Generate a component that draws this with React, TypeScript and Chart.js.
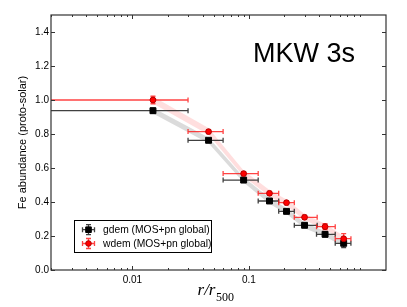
import React, { useEffect, useRef } from "react";
import { Chart, registerables } from "chart.js";

Chart.register(...registerables);

// ---- data ----
const xCenters = [0.015, 0.045, 0.09, 0.15, 0.21, 0.3, 0.45, 0.65];
const xLow = [0.0005, 0.03, 0.06, 0.12, 0.18, 0.245, 0.38, 0.55];
const xHigh = [0.03, 0.06, 0.12, 0.18, 0.245, 0.385, 0.55, 0.75];

const gdemY = [0.937, 0.763, 0.529, 0.406, 0.345, 0.263, 0.21, 0.157];
const gdemErr = [0.015, 0.01, 0.01, 0.012, 0.012, 0.012, 0.015, 0.025];
const gdemBandLow = [0.92, 0.745, 0.515, 0.39, 0.33, 0.245, 0.195, 0.14];
const gdemBandHigh = [0.955, 0.78, 0.545, 0.425, 0.365, 0.28, 0.228, 0.172];

const wdemY = [1.0, 0.814, 0.567, 0.451, 0.396, 0.31, 0.255, 0.184];
const wdemErr = [0.022, 0.012, 0.012, 0.012, 0.012, 0.012, 0.018, 0.03];
const wdemBandLow = [0.98, 0.795, 0.55, 0.432, 0.378, 0.292, 0.238, 0.168];
const wdemBandHigh = [1.02, 0.835, 0.585, 0.47, 0.415, 0.33, 0.272, 0.2];

const yTicks = [0, 0.2, 0.4, 0.6, 0.8, 1.0, 1.2, 1.4];
const xMajorTicks = [0.01, 0.1];
const xMinorTicks = [
  0.002, 0.003, 0.004, 0.005, 0.006, 0.007, 0.008, 0.009,
  0.02, 0.03, 0.04, 0.05, 0.06, 0.07, 0.08, 0.09,
  0.2, 0.3, 0.4, 0.5, 0.6, 0.7, 0.8, 0.9,
];

const gdemLabel = "gdem (MOS+pn global)";
const wdemLabel = "wdem (MOS+pn global)";
const titleText = "MKW 3s";
const yTitle = "Fe abundance (proto-solar)";

const SANS = "'Liberation Sans', Arial, Helvetica, sans-serif";

function drawErrBar(
  ctx: CanvasRenderingContext2D,
  px: number, py: number, xl: number, xr: number, yt: number, yb: number,
  color: string, left: number
) {
  ctx.strokeStyle = color;
  ctx.lineWidth = 1.3;
  const cap = 2.5;
  ctx.beginPath();
  ctx.moveTo(xl, py);
  ctx.lineTo(xr, py);
  ctx.moveTo(px, yt);
  ctx.lineTo(px, yb);
  if (xl > left) {
    ctx.moveTo(xl, py - cap);
    ctx.lineTo(xl, py + cap);
  }
  ctx.moveTo(xr, py - cap);
  ctx.lineTo(xr, py + cap);
  ctx.moveTo(px - cap, yt);
  ctx.lineTo(px + cap, yt);
  ctx.moveTo(px - cap, yb);
  ctx.lineTo(px + cap, yb);
  ctx.stroke();
}

const bandsAndErrors = {
  id: "bandsAndErrors",
  beforeDatasetsDraw(chart: any) {
    const { ctx, chartArea: a, scales } = chart;
    const x = scales.x;
    const y = scales.y;
    ctx.save();
    ctx.beginPath();
    ctx.rect(a.left, a.top, a.right - a.left, a.bottom - a.top);
    ctx.clip();
    const band = (lo: number[], hi: number[], color: string) => {
      ctx.beginPath();
      xCenters.forEach((v, i) => {
        const px = x.getPixelForValue(v);
        const py = y.getPixelForValue(hi[i]);
        if (i === 0) ctx.moveTo(px, py);
        else ctx.lineTo(px, py);
      });
      for (let i = xCenters.length - 1; i >= 0; i--) {
        ctx.lineTo(x.getPixelForValue(xCenters[i]), y.getPixelForValue(lo[i]));
      }
      ctx.closePath();
      ctx.fillStyle = color;
      ctx.fill();
    };
    band(gdemBandLow, gdemBandHigh, "rgba(0,0,0,0.14)");
    band(wdemBandLow, wdemBandHigh, "rgba(255,0,0,0.13)");
    const bars = (vals: number[], errs: number[], color: string) => {
      vals.forEach((v, i) => {
        const px = x.getPixelForValue(xCenters[i]);
        const py = y.getPixelForValue(v);
        const xl = Math.max(x.getPixelForValue(xLow[i]), a.left);
        const xr = x.getPixelForValue(xHigh[i]);
        drawErrBar(ctx, px, py, xl, xr, y.getPixelForValue(v + errs[i]), y.getPixelForValue(v - errs[i]), color, a.left);
      });
    };
    bars(gdemY, gdemErr, "rgba(30,30,30,0.85)");
    bars(wdemY, wdemErr, "rgba(255,20,20,0.8)");
    ctx.restore();
  },
  afterDraw(chart: any) {
    const { ctx, chartArea: a, scales } = chart;
    const x = scales.x;
    const y = scales.y;
    ctx.save();
    // frame
    ctx.strokeStyle = "#333";
    ctx.lineWidth = 1.2;
    ctx.strokeRect(a.left, a.top, a.right - a.left, a.bottom - a.top);
    // ticks
    ctx.lineWidth = 1;
    ctx.strokeStyle = "#333";
    ctx.beginPath();
    yTicks.forEach((v) => {
      const py = Math.round(y.getPixelForValue(v)) + 0.5;
      ctx.moveTo(a.left, py);
      ctx.lineTo(a.left + 4, py);
      ctx.moveTo(a.right, py);
      ctx.lineTo(a.right - 4, py);
    });
    xMajorTicks.forEach((v) => {
      const px = Math.round(x.getPixelForValue(v)) + 0.5;
      ctx.moveTo(px, a.bottom);
      ctx.lineTo(px, a.bottom - 4);
      ctx.moveTo(px, a.top);
      ctx.lineTo(px, a.top + 4);
    });
    xMinorTicks.forEach((v) => {
      const px = Math.round(x.getPixelForValue(v)) + 0.5;
      ctx.moveTo(px, a.bottom);
      ctx.lineTo(px, a.bottom - 2);
      ctx.moveTo(px, a.top);
      ctx.lineTo(px, a.top + 2);
    });
    ctx.stroke();

    // title inside the plot
    ctx.fillStyle = "#000";
    ctx.font = `27px ${SANS}`;
    ctx.textAlign = "left";
    ctx.textBaseline = "alphabetic";
    ctx.fillText(titleText, 253, 62);

    // y axis title
    ctx.save();
    ctx.translate(23, (a.top + a.bottom) / 2);
    ctx.rotate(-Math.PI / 2);
    ctx.font = `11px ${SANS}`;
    ctx.textAlign = "center";
    ctx.textBaseline = "middle";
    ctx.fillText(yTitle, 0, 0);
    ctx.restore();

    // x axis title: r/r_500
    ctx.textBaseline = "alphabetic";
    ctx.textAlign = "left";
    ctx.font = `italic 17px 'Liberation Serif', 'Times New Roman', serif`;
    const main = "r/r";
    const wMain = ctx.measureText(main).width;
    ctx.font = `12px 'Liberation Serif', 'Times New Roman', serif`;
    const wSub = ctx.measureText("500").width;
    const startX = (a.left + a.right) / 2 - (wMain + wSub) / 2 - 3;
    ctx.font = `italic 17px 'Liberation Serif', 'Times New Roman', serif`;
    ctx.fillText(main, startX, 295);
    ctx.font = `12px 'Liberation Serif', 'Times New Roman', serif`;
    ctx.fillText("500", startX + wMain + 0.5, 301);

    // legend
    const bx = 74.5, by = 220.5, bw = 137, bh = 32;
    ctx.fillStyle = "#fff";
    ctx.fillRect(bx, by, bw, bh);
    ctx.strokeStyle = "#000";
    ctx.lineWidth = 1;
    ctx.strokeRect(bx, by, bw, bh);
    const entry = (ly: number, color: string, marker: "rect" | "circle", fill: string, edge: string, label: string) => {
      const mx = 88.5;
      drawErrBar(ctx, mx, ly, mx - 6, mx + 6, ly - 5, ly + 5, color, 0);
      ctx.fillStyle = fill;
      ctx.strokeStyle = edge;
      ctx.lineWidth = 1;
      ctx.beginPath();
      if (marker === "rect") ctx.rect(mx - 2.8, ly - 2.8, 5.6, 5.6);
      else ctx.arc(mx, ly, 2.8, 0, Math.PI * 2);
      ctx.fill();
      ctx.stroke();
      ctx.fillStyle = "#000";
      ctx.font = `10.3px ${SANS}`;
      ctx.textAlign = "left";
      ctx.textBaseline = "middle";
      ctx.fillText(label, 103, ly + 0.5);
    };
    entry(229.7, "rgba(30,30,30,0.85)", "rect", "#000", "#000", gdemLabel);
    entry(243.5, "rgba(255,20,20,0.8)", "circle", "#ff0000", "#b00000", wdemLabel);
    ctx.restore();
  },
};

export default function App() {
  const ref = useRef<HTMLCanvasElement | null>(null);
  useEffect(() => {
    if (!ref.current) return;
    const chart = new Chart(ref.current, {
      type: "scatter",
      data: {
        datasets: [
          {
            label: wdemLabel,
            data: xCenters.map((v, i) => ({ x: v, y: wdemY[i] })),
            pointStyle: "circle",
            pointRadius: 2.9,
            backgroundColor: "#ff0000",
            borderColor: "#b00000",
            borderWidth: 1,
          },
          {
            label: gdemLabel,
            data: xCenters.map((v, i) => ({ x: v, y: gdemY[i] })),
            pointStyle: "rect",
            pointRadius: 4.2,
            backgroundColor: "#000",
            borderColor: "#000",
            borderWidth: 1,
          },
        ],
      },
      options: {
        animation: false,
        responsive: false,
        devicePixelRatio: 1,
        layout: { padding: { top: 15, right: 21, left: 0, bottom: 0 } },
        plugins: { legend: { display: false }, tooltip: { enabled: false } },
        scales: {
          x: {
            type: "logarithmic",
            min: 0.002,
            max: 1.5,
            grid: { display: false, drawTicks: false },
            border: { display: false },
            afterBuildTicks: (s: any) => {
              s.ticks = xMajorTicks.map((v) => ({ value: v, major: true }));
            },
            afterFit: (s: any) => {
              s.height = 37;
            },
            ticks: {
              autoSkip: false,
              maxRotation: 0,
              padding: 4,
              color: "#000",
              font: { size: 10, family: SANS },
              callback: (v: any) => String(v),
            },
          },
          y: {
            type: "linear",
            min: 0,
            max: 1.5,
            grid: { display: false, drawTicks: false },
            border: { display: false },
            afterBuildTicks: (s: any) => {
              s.ticks = yTicks.map((v) => ({ value: v }));
            },
            afterFit: (s: any) => {
              s.width = 51;
            },
            ticks: {
              padding: 2,
              color: "#000",
              font: { size: 10, family: SANS },
              callback: (v: any) => Number(v).toFixed(1),
            },
          },
        },
      },
      plugins: [bandsAndErrors],
    });
    return () => chart.destroy();
  }, []);
  return (
    <div style={{ position: "fixed", left: 0, top: 0, width: 407, height: 307, background: "#fff" }}>
      <canvas ref={ref} width={407} height={307} style={{ display: "block" }} />
    </div>
  );
}
